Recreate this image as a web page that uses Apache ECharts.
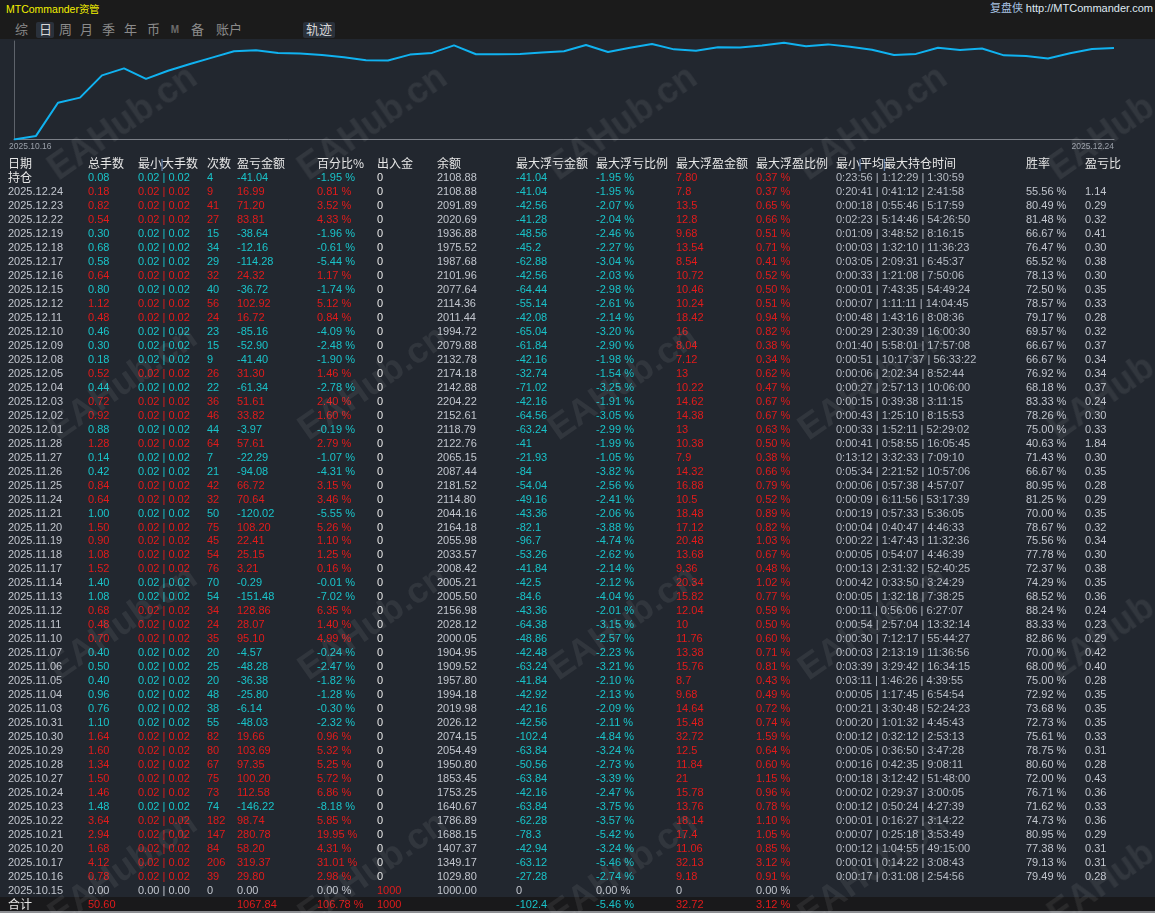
<!DOCTYPE html>
<html>
<head>
<meta charset="utf-8">
<script src="https://cdn.jsdelivr.net/npm/echarts@6/dist/echarts.min.js"></script>
<style>
@font-face{font-family:"CJKTight";
  src:local("Noto Sans CJK SC"),local("Noto Sans CJK SC Regular"),local("NotoSansCJKsc-Regular"),local("NotoSansCJKSC-Regular");
  ascent-override:88%;descent-override:12%;line-gap-override:0%;}
html,body{margin:0;padding:0;width:1155px;height:913px;overflow:hidden;background:#22272f;
  font-family:"Liberation Sans",Arial,"CJKTight","Noto Sans CJK SC",sans-serif;}
#topbar{position:absolute;left:0;top:0;width:1155px;height:39px;background:#1b1b1b;}
#title{position:absolute;left:6px;top:2px;font-size:10.5px;color:#f2f000;line-height:14px;}
#site{position:absolute;right:2px;top:1px;font-size:11px;line-height:14px;color:#dfe8f2;}
#site span{color:#a9c3e3;font-family:"CJKTight","Noto Sans CJK SC",sans-serif;}
.tab{position:absolute;top:22px;height:16px;line-height:16px;font-size:13px;color:#8b8b8b;
  font-family:"CJKTight","Noto Sans CJK SC",sans-serif;text-align:center;}
.tab.on{background:#2a313b;color:#d6d6d6;border-radius:2px;}
#container{position:absolute;left:0;top:39px;width:1155px;height:119px;}
.row{position:absolute;left:0;width:1155px;height:14px;line-height:14px;font-size:11px;white-space:nowrap;}
.row span{position:absolute;top:0;}
.cjk{font-family:"CJKTight","Noto Sans CJK SC",sans-serif;font-size:12px;}
.hdr{font-size:12px;font-family:"CJKTight","Noto Sans CJK SC",sans-serif;color:#e6e6e6;}
.hdr i{font-style:normal;color:#6f93c8;font-family:"Liberation Sans",sans-serif;margin:0 -1.5px;}
.sum{background:#19191b;}
.wm{position:absolute;font:bold 36px "Liberation Sans",Arial,sans-serif;color:rgba(255,255,255,0.07);
  transform:translate(-50%,-50%) rotate(-35deg);pointer-events:none;white-space:nowrap;}
#bottomline{position:absolute;left:0;top:911px;width:1155px;height:2px;background:#8d8f93;}
</style>
</head>
<body>
<div id="topbar">
  <div id="title">MTCommander资管</div>
  <div id="site"><span>复盘侠</span> http://MTCommander.com</div>
</div>
<div id="tabs"></div>
<div id="container"></div>
<div id="table"></div>
<div id="bottomline"></div>
<div id="marks"></div>
<script>
var tabNames = ['综','日','周','月','季','年','币','M','备','账户','轨迹'];

var headers = ['日期','总手数','最小|大手数','次数','盈亏金额','百分比%','出入金','余额','最大浮亏金额','最大浮亏比例','最大浮盈金额','最大浮盈比例','最小|平均|最大持仓时间','胜率','盈亏比'];

var dates = ['2025.12.24','2025.12.23','2025.12.22','2025.12.19','2025.12.18','2025.12.17','2025.12.16','2025.12.15','2025.12.12','2025.12.11','2025.12.10','2025.12.09','2025.12.08','2025.12.05','2025.12.04','2025.12.03','2025.12.02','2025.12.01','2025.11.28','2025.11.27','2025.11.26','2025.11.25','2025.11.24','2025.11.21','2025.11.20','2025.11.19','2025.11.18','2025.11.17','2025.11.14','2025.11.13','2025.11.12','2025.11.11','2025.11.10','2025.11.07','2025.11.06','2025.11.05','2025.11.04','2025.11.03','2025.10.31','2025.10.30','2025.10.29','2025.10.28','2025.10.27','2025.10.24','2025.10.23','2025.10.22','2025.10.21','2025.10.20','2025.10.17','2025.10.16','2025.10.15'];

var totalLots = [0.18,0.82,0.54,0.30,0.68,0.58,0.64,0.80,1.12,0.48,0.46,0.30,0.18,0.52,0.44,0.72,0.92,0.88,1.28,0.14,0.42,0.84,0.64,1.00,1.50,0.90,1.08,1.52,1.40,1.08,0.68,0.48,0.70,0.40,0.50,0.40,0.96,0.76,1.10,1.64,1.60,1.34,1.50,1.46,1.48,3.64,2.94,1.68,4.12,0.78,0.00];

var minLot = [0.02,0.02,0.02,0.02,0.02,0.02,0.02,0.02,0.02,0.02,0.02,0.02,0.02,0.02,0.02,0.02,0.02,0.02,0.02,0.02,0.02,0.02,0.02,0.02,0.02,0.02,0.02,0.02,0.02,0.02,0.02,0.02,0.02,0.02,0.02,0.02,0.02,0.02,0.02,0.02,0.02,0.02,0.02,0.02,0.02,0.02,0.02,0.02,0.02,0.02,0.00];
var maxLot = [0.02,0.02,0.02,0.02,0.02,0.02,0.02,0.02,0.02,0.02,0.02,0.02,0.02,0.02,0.02,0.02,0.02,0.02,0.02,0.02,0.02,0.02,0.02,0.02,0.02,0.02,0.02,0.02,0.02,0.02,0.02,0.02,0.02,0.02,0.02,0.02,0.02,0.02,0.02,0.02,0.02,0.02,0.02,0.02,0.02,0.02,0.02,0.02,0.02,0.02,0.00];

var trades = [9,41,27,15,34,29,32,40,56,24,23,15,9,26,22,36,46,44,64,7,21,42,32,50,75,45,54,76,70,54,34,24,35,20,25,20,48,38,55,82,80,67,75,73,74,182,147,84,206,39,0];

var pnl = [16.99,71.20,83.81,-38.64,-12.16,-114.28,24.32,-36.72,102.92,16.72,-85.16,-52.90,-41.40,31.30,-61.34,51.61,33.82,-3.97,57.61,-22.29,-94.08,66.72,70.64,-120.02,108.20,22.41,25.15,3.21,-0.29,-151.48,128.86,28.07,95.10,-4.57,-48.28,-36.38,-25.80,-6.14,-48.03,19.66,103.69,97.35,100.20,112.58,-146.22,98.74,280.78,58.20,319.37,29.80,0];

var pnlPct = [0.81,3.52,4.33,-1.96,-0.61,-5.44,1.17,-1.74,5.12,0.84,-4.09,-2.48,-1.90,1.46,-2.78,2.40,1.60,-0.19,2.79,-1.07,-4.31,3.15,3.46,-5.55,5.26,1.10,1.25,0.16,-0.01,-7.02,6.35,1.40,4.99,-0.24,-2.47,-1.82,-1.28,-0.30,-2.32,0.96,5.32,5.25,5.72,6.86,-8.18,5.85,19.95,4.31,31.01,2.98,0];

var cashFlow = [0,0,0,0,0,0,0,0,0,0,0,0,0,0,0,0,0,0,0,0,0,0,0,0,0,0,0,0,0,0,0,0,0,0,0,0,0,0,0,0,0,0,0,0,0,0,0,0,0,0,1000];

var balance = [2108.88,2091.89,2020.69,1936.88,1975.52,1987.68,2101.96,2077.64,2114.36,2011.44,1994.72,2079.88,2132.78,2174.18,2142.88,2204.22,2152.61,2118.79,2122.76,2065.15,2087.44,2181.52,2114.80,2044.16,2164.18,2055.98,2033.57,2008.42,2005.21,2005.50,2156.98,2028.12,2000.05,1904.95,1909.52,1957.80,1994.18,2019.98,2026.12,2074.15,2054.49,1950.80,1853.45,1753.25,1640.67,1786.89,1688.15,1407.37,1349.17,1029.80,1000.00];

var maxFloatLoss = [-41.04,-42.56,-41.28,-48.56,-45.2,-62.88,-42.56,-64.44,-55.14,-42.08,-65.04,-61.84,-42.16,-32.74,-71.02,-42.16,-64.56,-63.24,-41,-21.93,-84,-54.04,-49.16,-43.36,-82.1,-96.7,-53.26,-41.84,-42.5,-84.6,-43.36,-64.38,-48.86,-42.48,-63.24,-41.84,-42.92,-42.16,-42.56,-102.4,-63.84,-50.56,-63.84,-42.16,-63.84,-62.28,-78.3,-42.94,-63.12,-27.28,0];

var maxFloatLossPct = [-1.95,-2.07,-2.04,-2.46,-2.27,-3.04,-2.03,-2.98,-2.61,-2.14,-3.20,-2.90,-1.98,-1.54,-3.25,-1.91,-3.05,-2.99,-1.99,-1.05,-3.82,-2.56,-2.41,-2.06,-3.88,-4.74,-2.62,-2.14,-2.12,-4.04,-2.01,-3.15,-2.57,-2.23,-3.21,-2.10,-2.13,-2.09,-2.11,-4.84,-3.24,-2.73,-3.39,-2.47,-3.75,-3.57,-5.42,-3.24,-5.46,-2.74,0];

var maxFloatProfit = [7.8,13.5,12.8,9.68,13.54,8.54,10.72,10.46,10.24,18.42,16,8.04,7.12,13,10.22,14.62,14.38,13,10.38,7.9,14.32,16.88,10.5,18.48,17.12,20.48,13.68,9.36,20.34,15.82,12.04,10,11.76,13.38,15.76,8.7,9.68,14.64,15.48,32.72,12.5,11.84,21,15.78,13.76,18.14,17.4,11.06,32.13,9.18,0];

var maxFloatProfitPct = [0.37,0.65,0.66,0.51,0.71,0.41,0.52,0.50,0.51,0.94,0.82,0.38,0.34,0.62,0.47,0.67,0.67,0.63,0.50,0.38,0.66,0.79,0.52,0.89,0.82,1.03,0.67,0.48,1.02,0.77,0.59,0.50,0.60,0.71,0.81,0.43,0.49,0.72,0.74,1.59,0.64,0.60,1.15,0.96,0.78,1.10,1.05,0.85,3.12,0.91,0];

var holdMin = ['0:20:41','0:00:18','0:02:23','0:01:09','0:00:03','0:03:05','0:00:33','0:00:01','0:00:07','0:00:48','0:00:29','0:01:40','0:00:51','0:00:06','0:00:27','0:00:15','0:00:43','0:00:33','0:00:41','0:13:12','0:05:34','0:00:06','0:00:09','0:00:19','0:00:04','0:00:22','0:00:05','0:00:13','0:00:42','0:00:05','0:00:11','0:00:54','0:00:30','0:00:03','0:03:39','0:03:11','0:00:05','0:00:21','0:00:20','0:00:12','0:00:05','0:00:16','0:00:18','0:00:02','0:00:12','0:00:01','0:00:07','0:00:12','0:00:01','0:00:17',''];
var holdAvg = ['0:41:12','0:55:46','5:14:46','3:48:52','1:32:10','2:09:31','1:21:08','7:43:35','1:11:11','1:43:16','2:30:39','5:58:01','10:17:37','2:02:34','2:57:13','0:39:38','1:25:10','1:52:11','0:58:55','3:32:33','2:21:52','0:57:38','6:11:56','0:57:33','0:40:47','1:47:43','0:54:07','2:31:32','0:33:50','1:32:18','0:56:06','2:57:04','7:12:17','2:13:19','3:29:42','1:46:26','1:17:45','3:30:48','1:01:32','0:32:12','0:36:50','0:42:35','3:12:42','0:29:37','0:50:24','0:16:27','0:25:18','1:04:55','0:14:22','0:31:08',''];
var holdMax = ['2:41:58','5:17:59','54:26:50','8:16:15','11:36:23','6:45:37','7:50:06','54:49:24','14:04:45','8:08:36','16:00:30','17:57:08','56:33:22','8:52:44','10:06:00','3:11:15','8:15:53','52:29:02','16:05:45','7:09:10','10:57:06','4:57:07','53:17:39','5:36:05','4:46:33','11:32:36','4:46:39','52:40:25','3:24:29','7:38:25','6:27:07','13:32:14','55:44:27','11:36:56','16:34:15','4:39:55','6:54:54','52:24:23','4:45:43','2:53:13','3:47:28','9:08:11','51:48:00','3:00:05','4:27:39','3:14:22','3:53:49','49:15:00','3:08:43','2:54:56',''];

var winRate = [55.56,80.49,81.48,66.67,76.47,65.52,78.13,72.50,78.57,79.17,69.57,66.67,66.67,76.92,68.18,83.33,78.26,75.00,40.63,71.43,66.67,80.95,81.25,70.00,78.67,75.56,77.78,72.37,74.29,68.52,88.24,83.33,82.86,70.00,68.00,75.00,72.92,73.68,72.73,75.61,78.75,80.60,72.00,76.71,71.62,74.73,80.95,77.38,79.13,79.49,null];
var plRatio = [1.14,0.29,0.32,0.41,0.30,0.38,0.30,0.35,0.33,0.28,0.32,0.37,0.34,0.34,0.37,0.24,0.30,0.33,1.84,0.30,0.35,0.28,0.29,0.35,0.32,0.34,0.30,0.38,0.35,0.36,0.24,0.23,0.29,0.42,0.40,0.28,0.35,0.35,0.35,0.33,0.31,0.28,0.43,0.36,0.33,0.36,0.29,0.31,0.31,0.28,null];

// open positions row (持仓)
var openRow = {label:'持仓', lots:0.08, minLot:0.02, maxLot:0.02, trades:4, pnl:-41.04, pct:-1.95, cash:0, balance:2108.88,
  mfl:'-41.04', mflPct:-1.95, mfp:'7.80', mfpPct:0.37, hold:['0:23:56','1:12:29','1:30:59']};
// totals row (合计)
var sumRow = {label:'合计', lots:50.60, pnl:1067.84, pct:106.78, cash:1000, mfl:-102.4, mflPct:-5.46, mfp:32.72, mfpPct:3.12};

var RED = '#e21b1b', TEAL = '#19c3c9', GRAY = '#c2c6ce', WHITE = '#e6e6e6', TIME = '#b6bbc4';
var colX = [8, 88, 138, 207, 237, 317, 377, 437, 516, 596, 676, 756, 836, 1026, 1085];
var rowTop = 156.3, rowH = 13.97;

function signColor(v) { return v > 0 ? RED : (v < 0 ? TEAL : GRAY); }
function pctStr(v) { return v.toFixed(2) + ' %'; }

var tableEl = document.getElementById('table');
function addRow(i, cells, cls) {
  var r = document.createElement('div');
  r.className = 'row' + (cls ? ' ' + cls : '');
  r.style.top = (rowTop + i * rowH) + 'px';
  cells.forEach(function (c, j) {
    if (!c || c[0] === '' || c[0] === null) return;
    var s = document.createElement('span');
    s.style.left = colX[j] + 'px';
    s.style.color = c[1];
    if (c[2]) s.className = 'cjk';
    s.textContent = c[0];
    r.appendChild(s);
  });
  tableEl.appendChild(r);
}

// header
var hr = document.createElement('div');
hr.className = 'row hdr';
hr.style.top = rowTop + 'px';
headers.forEach(function (h, j) {
  var s = document.createElement('span');
  s.style.left = colX[j] + 'px';
  s.innerHTML = h.split('|').join('<i>|</i>');
  hr.appendChild(s);
});
tableEl.appendChild(hr);

// 持仓
var oc = signColor(openRow.pnl);
addRow(1, [
  [openRow.label, WHITE, true],
  [openRow.lots.toFixed(2), oc],
  [openRow.minLot.toFixed(2) + ' | ' + openRow.maxLot.toFixed(2), oc],
  [String(openRow.trades), oc],
  [openRow.pnl.toFixed(2), oc],
  [pctStr(openRow.pct), oc],
  [String(openRow.cash), WHITE],
  [openRow.balance.toFixed(2), GRAY],
  [openRow.mfl, TEAL],
  [pctStr(openRow.mflPct), TEAL],
  [openRow.mfp, RED],
  [pctStr(openRow.mfpPct), RED],
  [openRow.hold.join(' | '), TIME]
]);

dates.forEach(function (d, k) {
  var c = signColor(pnl[k]);
  var hold = holdMin[k] ? holdMin[k] + ' | ' + holdAvg[k] + ' | ' + holdMax[k] : '';
  addRow(k + 2, [
    [d, GRAY],
    [totalLots[k].toFixed(2), c],
    [minLot[k].toFixed(2) + ' | ' + maxLot[k].toFixed(2), c],
    [String(trades[k]), c],
    [pnl[k].toFixed(2), c],
    [pctStr(pnlPct[k]), c],
    [String(cashFlow[k]), cashFlow[k] > 0 ? RED : WHITE],
    [balance[k].toFixed(2), GRAY],
    [String(maxFloatLoss[k]), maxFloatLoss[k] < 0 ? TEAL : GRAY],
    [pctStr(maxFloatLossPct[k]), maxFloatLossPct[k] < 0 ? TEAL : GRAY],
    [String(maxFloatProfit[k]), maxFloatProfit[k] > 0 ? RED : GRAY],
    [pctStr(maxFloatProfitPct[k]), maxFloatProfitPct[k] > 0 ? RED : GRAY],
    [hold, TIME],
    [winRate[k] === null ? '' : pctStr(winRate[k]), GRAY],
    [plRatio[k] === null ? '' : plRatio[k].toFixed(2), GRAY]
  ]);
});

// 合计
addRow(dates.length + 2, [
  [sumRow.label, WHITE, true],
  [sumRow.lots.toFixed(2), RED],
  null, null,
  [sumRow.pnl.toFixed(2), RED],
  [pctStr(sumRow.pct), RED],
  [String(sumRow.cash), RED],
  null,
  [String(sumRow.mfl), TEAL],
  [pctStr(sumRow.mflPct), TEAL],
  [String(sumRow.mfp), RED],
  [pctStr(sumRow.mfpPct), RED]
], 'sum');

// tabs
var tabX = [13, 36, 57, 78, 100, 122, 145, 169, 189, 212, 303];
var tabW = [16, 18, 16, 16, 16, 16, 16, 12, 16, 34, 32];
var tabsEl = document.getElementById('tabs');
tabNames.forEach(function (t, i) {
  var s = document.createElement('div');
  s.className = 'tab' + (t === '日' || t === '轨迹' ? ' on' : '');
  s.style.left = tabX[i] + 'px';
  s.style.width = tabW[i] + 'px';
  if (t === 'M') { s.style.fontSize = '10px'; s.style.fontWeight = 'bold'; s.style.color = '#6c6c6c'; s.style.fontFamily = '"Liberation Sans",sans-serif'; }
  s.textContent = t;
  tabsEl.appendChild(s);
});

// watermark
var wmX = [122, 372, 622, 872, 1122];
var wmY = [122, 382, 622, 868];
var marksEl = document.getElementById('marks');
wmY.forEach(function (y) {
  wmX.forEach(function (x) {
    var m = document.createElement('div');
    m.className = 'wm';
    m.style.left = x + 'px';
    m.style.top = y + 'px';
    m.textContent = 'EAHub.cn';
    marksEl.appendChild(m);
  });
});

// balance curve
var chartDates = dates.slice().reverse();
var chartBal = balance.slice().reverse();
var chart = echarts.init(document.getElementById('container'));
chart.setOption({
  animation: false,
  grid: {left: 14, right: 41, top: 2, bottom: 18.5},
  xAxis: {
    type: 'category',
    data: chartDates,
    boundaryGap: false,
    axisLine: {lineStyle: {color: '#7b7f87', width: 1}},
    axisTick: {show: false},
    axisLabel: {
      color: '#9aa0a9', fontSize: 8.5, margin: 3,
      fontFamily: 'Liberation Sans',
      padding: [0, 0, 0, -5],
      interval: function (i) { return i === 0 || i === chartDates.length - 1; },
      formatter: function (v, i) { return i === 0 ? chartDates[1] : v; },
      showMinLabel: true, showMaxLabel: true,
      alignMinLabel: 'left', alignMaxLabel: 'right'
    },
    splitLine: {show: false}
  },
  yAxis: {
    type: 'log',
    min: 1000,
    max: 2235,
    axisLine: {show: true, lineStyle: {color: '#5e636b'}},
    axisTick: {show: false},
    axisLabel: {show: false},
    splitLine: {show: false}
  },
  series: [{
    type: 'line',
    data: chartBal,
    showSymbol: false,
    lineStyle: {color: '#10b2f0', width: 2},
    itemStyle: {color: '#10b2f0'}
  }]
});
</script>
</body>
</html>
